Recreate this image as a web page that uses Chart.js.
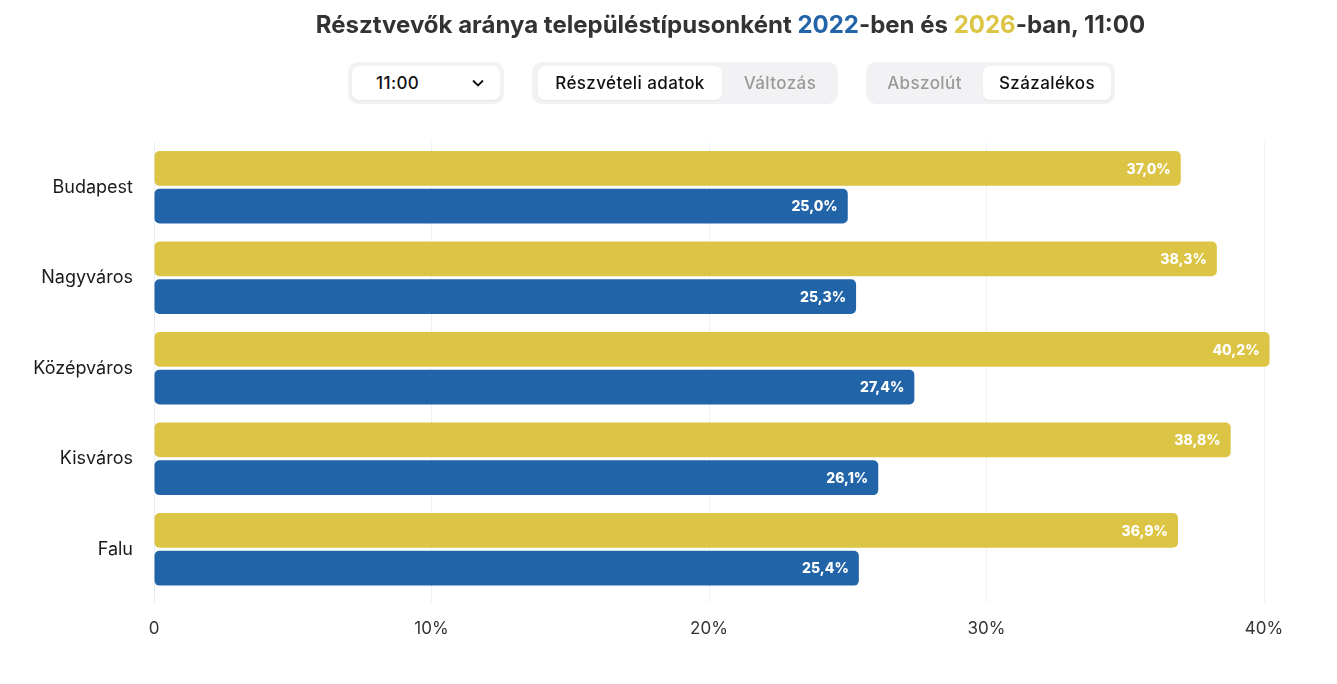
<!DOCTYPE html>
<html lang="hu">
<head>
<meta charset="utf-8">
<script src="https://cdn.jsdelivr.net/npm/chart.js@4"></script>
<style>
  html,body{margin:0;padding:0;background:#fff;width:1337px;height:684px;overflow:hidden;font-family:Inter,"Noto Sans",sans-serif;}
  #wrap{position:relative;width:1337px;height:684px;}
  #c{position:absolute;left:0;top:0;}
  h1{position:absolute;top:10px;margin:0;text-align:center;font-size:24px;font-weight:700;color:#333;}
  .y22{color:#2264a8}.y26{color:#dcc444}
  .box{position:absolute;top:62px;height:42px;border-radius:10px;background:#f2f2f4;box-sizing:border-box;}
  .btn{position:absolute;top:4px;height:34px;line-height:34px;border-radius:7px;text-align:center;font-size:17px;font-weight:500;letter-spacing:0.4px;color:#999;}
  .on{background:#fff;color:#111;box-shadow:0 1px 2px rgba(0,0,0,0.06);}
</style>
</head>
<body>
<div id="wrap">
  <canvas id="c" width="1337" height="684"></canvas>
  <h1 style="width:1337px;left:62px;">Résztvevők aránya településtípusonként <span class="y22">2022</span>-ben és <span class="y26">2026</span>-ban, 11:00</h1>
  <div class="box" style="left:348px;width:156px;">
    <div class="btn on" style="left:4px;width:148px;text-align:left;color:#111;">
      <span style="position:absolute;left:24px;">11:00</span>
      <svg style="position:absolute;right:16px;top:12px" width="12" height="10" viewBox="0 0 12 10"><path d="M1 2.5 L6 7.5 L11 2.5" fill="none" stroke="#111" stroke-width="1.8"/></svg>
    </div>
  </div>
  <div class="box" style="left:532px;width:306px;">
    <div class="btn on" style="left:6px;width:184px;">Részvételi adatok</div>
    <div class="btn" style="left:190px;width:116px;">Változás</div>
  </div>
  <div class="box" style="left:866px;width:249px;">
    <div class="btn" style="left:0;width:117px;">Abszolút</div>
    <div class="btn on" style="left:117px;width:128px;">Százalékos</div>
  </div>
</div>
<script>
const categories = ["Budapest", "Nagyváros", "Középváros", "Kisváros", "Falu"];
const values2026 = [37.0, 38.3, 40.2, 38.8, 36.9];
const values2022 = [25.0, 25.3, 27.4, 26.1, 25.4];
const xTicks = [0, 10, 20, 30, 40];

const FONT = 'Inter, "Noto Sans", sans-serif';
const fmt = v => v.toFixed(1).replace('.', ',') + '%';

const valueLabels = {
  id: 'valueLabels',
  afterDatasetsDraw(chart) {
    const ctx = chart.ctx;
    ctx.save();
    ctx.fillStyle = '#fff';
    ctx.font = '800 14px ' + FONT;
    ctx.textAlign = 'right';
    ctx.textBaseline = 'middle';
    chart.data.datasets.forEach((ds, i) => {
      chart.getDatasetMeta(i).data.forEach((bar, j) => {
        ctx.fillText(fmt(ds.data[j]), bar.x - 10, bar.y + 1);
      });
    });
    ctx.restore();
  }
};

new Chart(document.getElementById('c'), {
  type: 'bar',
  data: {
    labels: categories,
    datasets: [
      { label: '2026', data: values2026, backgroundColor: '#dcc444', clip: false },
      { label: '2022', data: values2022, backgroundColor: '#2264a8', clip: false }
    ]
  },
  options: {
    indexAxis: 'y',
    responsive: false,
    animation: false,
    devicePixelRatio: 1,
    layout: { padding: { top: 142, right: 73, bottom: 29, left: 0 } },
    datasets: {
      bar: { categoryPercentage: 0.835, barPercentage: 0.92, borderRadius: 5, borderSkipped: false }
    },
    plugins: { legend: { display: false }, tooltip: { enabled: false } },
    scales: {
      x: {
        min: 0, max: 40,
        afterBuildTicks: s => { s.ticks = xTicks.map(v => ({ value: v })); },
        border: { display: false },
        grid: {
          color: c => c.tick && c.tick.value === 0 ? '#e6edf7' : '#f1f1f3',
          lineWidth: 1, drawTicks: true, tickLength: 8
        },
        ticks: {
          padding: 16,
          color: '#333',
          font: { family: FONT, size: 17 },
          callback: v => v === 0 ? '0' : v + '%'
        }
      },
      y: {
        border: { display: false },
        grid: { display: false, drawTicks: false },
        afterFit: s => { s.width = 154; },
        ticks: { padding: 21, color: '#1a1a1a', font: { family: FONT, size: 18 } }
      }
    }
  },
  plugins: [valueLabels]
});
</script>
</body>
</html>
